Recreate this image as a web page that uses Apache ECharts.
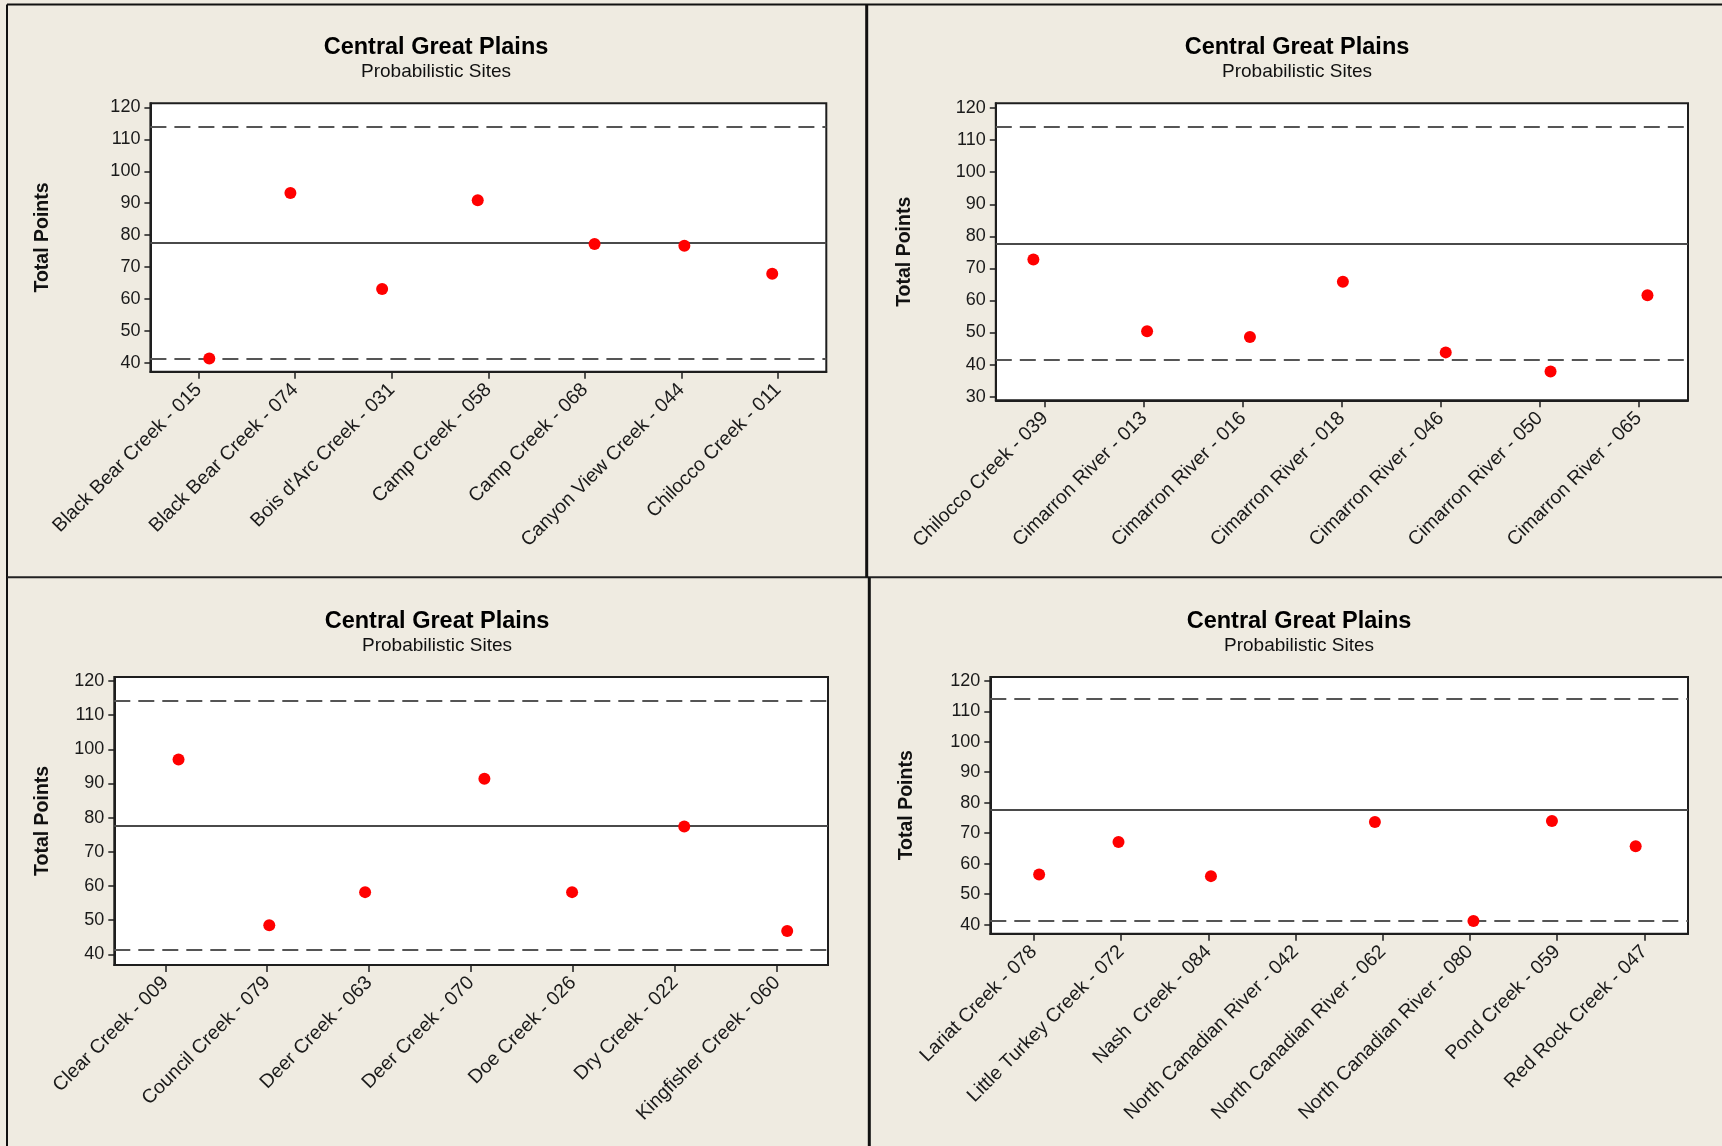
<!DOCTYPE html>
<html>
<head>
<meta charset="utf-8">
<script src="https://cdn.jsdelivr.net/npm/echarts@6/dist/echarts.min.js"></script>
<style>
  html, body { margin: 0; padding: 0; background: #EFEBE1; }
  #chart { width: 1722px; height: 1146px; }
</style>
</head>
<body>
<div id="chart"></div>
<script>
// ---------- DATA ----------
const catsTL = ['Black Bear Creek - 015', 'Black Bear Creek - 074', "Bois d'Arc Creek - 031", 'Camp Creek - 058', 'Camp Creek - 068', 'Canyon View Creek - 044', 'Chilocco Creek - 011'];
const valsTL = [41.3, 93.2, 63.1, 90.9, 77.2, 76.7, 67.9];
const jitterTL = [0.11, -0.05, -0.10, -0.11, 0.10, 0.03, -0.06];

const catsTR = ['Chilocco Creek - 039', 'Cimarron River - 013', 'Cimarron River - 016', 'Cimarron River - 018', 'Cimarron River - 046', 'Cimarron River - 050', 'Cimarron River - 065'];
const valsTR = [72.8, 50.4, 48.6, 65.8, 43.8, 37.8, 61.6];
const jitterTR = [-0.12, 0.03, 0.07, 0.01, 0.05, 0.11, 0.09];

const catsBL = ['Clear Creek - 009', 'Council Creek - 079', 'Deer Creek - 063', 'Deer Creek - 070', 'Doe Creek - 026', 'Dry Creek - 022', 'Kingfisher Creek - 060'];
const valsBL = [97.0, 48.5, 58.2, 91.4, 58.2, 77.4, 46.8];
const jitterBL = [0.13, 0.02, -0.04, 0.13, -0.01, 0.09, 0.10];

const catsBR = ['Lariat Creek - 078', 'Little Turkey Creek - 072', 'Nash  Creek - 084', 'North Canadian River - 042', 'North Canadian River - 062', 'North Canadian River - 080', 'Pond Creek - 059', 'Red Rock Creek - 047'];
const valsBR = [56.4, 67.1, 55.9, null, 73.7, 41.2, 74.0, 65.7];
const jitterBR = [0.06, -0.03, 0.03, 0, -0.09, 0.04, -0.06, -0.10];

// reference lines: upper limit, centre, lower limit
const upperLimit = 114.1;
const centreLine = 77.7;
const lowerLimit = 41.4;

const yTicks40 = [40, 50, 60, 70, 80, 90, 100, 110, 120];
const yTicks30 = [30, 40, 50, 60, 70, 80, 90, 100, 110, 120];

const titleText = 'Central Great Plains';
const subtitleText = 'Probabilistic Sites';
const yName = 'Total Points';

// ---------- LAYOUT ----------
const panels = [
  { cats: catsTL, vals: valsTL, jit: jitterTL, ticks: yTicks40, ymin: 37.2, ymax: 121.3,
    grid: { left: 150.4, top: 103.3, width: 675.9, height: 268.4 }, nameGap: 98, titleX: 436, titleY: 36 },
  { cats: catsTR, vals: valsTR, jit: jitterTR, ticks: yTicks30, ymin: 28.85, ymax: 121.5,
    grid: { left: 995.8, top: 103.3, width: 692.2, height: 297.0 }, nameGap: 81, titleX: 1297, titleY: 36 },
  { cats: catsBL, vals: valsBL, jit: jitterBL, ticks: yTicks40, ymin: 36.9, ymax: 121.2,
    grid: { left: 114.3, top: 676.9, width: 713.7, height: 288.0 }, nameGap: 62, titleX: 437, titleY: 609.5 },
  { cats: catsBR, vals: valsBR, jit: jitterBR, ticks: yTicks40, ymin: 37.0, ymax: 121.3,
    grid: { left: 990.3, top: 676.9, width: 697.7, height: 256.8 }, nameGap: 74, titleX: 1299, titleY: 609.5 }
];

const FONT = 'Liberation Sans';
const DARK = '#1e1e1e';

const option = {
  animation: false,
  backgroundColor: '#EFEBE1',
  textStyle: { fontFamily: FONT },
  title: [], grid: [], xAxis: [], yAxis: [], series: [],
  graphic: [
    { type: 'line', shape: { x1: 7, y1: 4.5, x2: 1722, y2: 4.5 }, style: { stroke: '#111', lineWidth: 2 } },
    { type: 'line', shape: { x1: 7, y1: 4.5, x2: 7, y2: 1146 }, style: { stroke: '#111', lineWidth: 2 } },
    { type: 'line', shape: { x1: 7, y1: 577.3, x2: 1722, y2: 577.3 }, style: { stroke: '#222', lineWidth: 2 } },
    { type: 'line', shape: { x1: 866.7, y1: 4.5, x2: 866.7, y2: 577.3 }, style: { stroke: '#111', lineWidth: 3 } },
    { type: 'line', shape: { x1: 869.3, y1: 577.3, x2: 869.3, y2: 1146 }, style: { stroke: '#111', lineWidth: 3 } }
  ]
};

panels.forEach((p, i) => {
  const n = p.cats.length;
  const idx = p.cats.map((_, k) => k);
  option.title.push({
    text: titleText,
    subtext: subtitleText,
    left: p.titleX,
    top: p.titleY,
    textAlign: 'center',
    itemGap: 1,
    padding: 0,
    textStyle: { fontFamily: FONT, fontSize: 23.5, fontWeight: 'bold', color: '#000', lineHeight: 24 },
    subtextStyle: { fontFamily: FONT, fontSize: 19, color: '#111', lineHeight: 22 }
  });
  option.grid.push(Object.assign({
    show: true, backgroundColor: '#ffffff', borderColor: DARK, borderWidth: 2, containLabel: false
  }, p.grid));
  option.xAxis.push({
    type: 'value', gridIndex: i, min: -0.5, max: n - 0.5,
    splitLine: { show: false },
    axisLine: { show: true, onZero: false, lineStyle: { color: DARK, width: 2 } },
    axisTick: { show: true, length: 7, customValues: idx, lineStyle: { color: DARK, width: 1.5 } },
    axisLabel: {
      show: true, customValues: idx, rotate: 45, margin: 15,
      fontSize: 19.5, color: '#1a1a1a', fontFamily: FONT,
      formatter: (v) => p.cats[Math.round(v)]
    }
  });
  option.yAxis.push({
    type: 'value', gridIndex: i, min: p.ymin, max: p.ymax,
    name: yName, nameLocation: 'middle', nameGap: p.nameGap,
    nameTextStyle: { fontFamily: FONT, fontSize: 19.5, fontWeight: 'bold', color: '#111' },
    splitLine: { show: false },
    axisLine: { show: true, onZero: false, lineStyle: { color: DARK, width: 2 } },
    axisTick: { show: true, length: 6, customValues: p.ticks, lineStyle: { color: DARK, width: 1.5 } },
    axisLabel: { show: true, customValues: p.ticks, margin: 10, fontSize: 18, color: '#1a1a1a', fontFamily: FONT }
  });
  const data = [];
  p.vals.forEach((v, k) => { if (v !== null) data.push([k + p.jit[k], v]); });
  option.series.push({
    type: 'scatter', xAxisIndex: i, yAxisIndex: i, z: 10,
    symbol: 'circle', symbolSize: 12,
    itemStyle: { color: '#ff0000', opacity: 1 },
    data: data,
    markLine: {
      silent: true, symbol: 'none', z: 3,
      label: { show: false },
      emphasis: { disabled: true },
      data: [
        { yAxis: upperLimit, lineStyle: { type: [16, 8], color: '#555', width: 2 } },
        { yAxis: centreLine, lineStyle: { type: 'solid', color: '#4a4a4a', width: 1.8 } },
        { yAxis: lowerLimit, lineStyle: { type: [16, 8], color: '#555', width: 2 } }
      ]
    }
  });
});

const chart = echarts.init(document.getElementById('chart'), null, { renderer: 'canvas' });
chart.setOption(option);
</script>
</body>
</html>
